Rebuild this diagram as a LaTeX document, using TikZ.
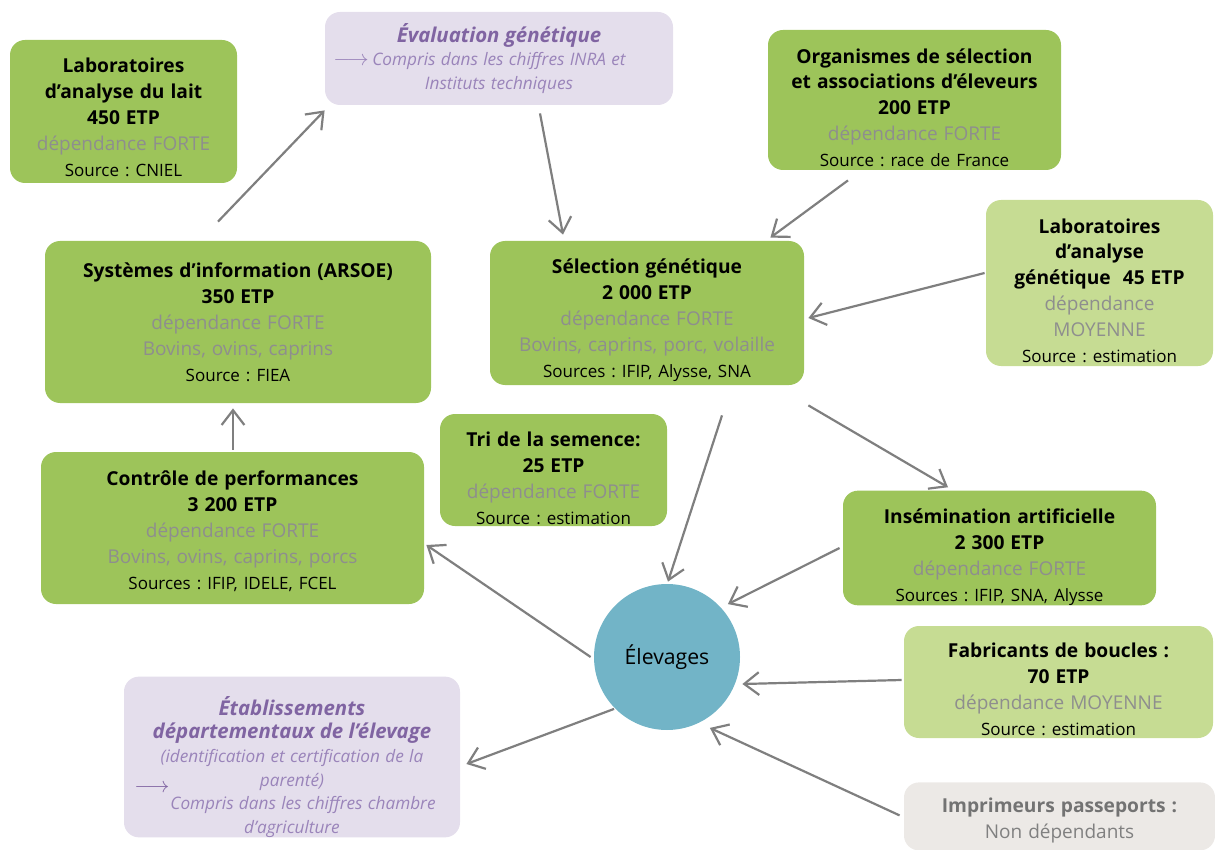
\documentclass[tikz,border=0pt]{standalone}
\usepackage{fontspec}
\setmainfont{Open Sans}
\usetikzlibrary{positioning,arrows.meta,calc}
\definecolor{gMain}{HTML}{9DC45A}
\definecolor{gLight}{HTML}{C6DC93}
\definecolor{lav}{HTML}{E4DEEC}
\definecolor{lavtxt}{HTML}{8064A2}
\definecolor{lavlight}{HTML}{9A84BA}
\definecolor{imp}{HTML}{ECE9E6}
\definecolor{depgray}{HTML}{8E8E8E}
\definecolor{circ}{HTML}{72B4C7}
\definecolor{wiregray}{HTML}{7F7F7F}
\newcommand{\ttl}[1]{{\fontsize{9.6}{12.8}\selectfont\bfseries #1}}
\newcommand{\dep}[1]{{\fontsize{9.5}{13}\selectfont\color{depgray}#1}}
\newcommand{\src}[1]{{\fontsize{8.5}{12}\selectfont #1}}
\newcommand{\pttl}[1]{{\fontsize{10.2}{13}\selectfont\bfseries\itshape\color{lavtxt}#1}}
\newcommand{\pnote}[1]{{\fontsize{8.6}{11.8}\selectfont\itshape\color{lavlight}#1}}
\frenchspacing

\begin{document}
\begin{tikzpicture}[x=0.5pt,y=-0.5pt,
  box/.style={rounded corners=7.5pt,align=center,inner xsep=2pt,inner ysep=0pt,text=black,
    font=\fontsize{9}{13}\selectfont},
  gbox/.style={box,fill=gMain},
  lbox/.style={box,fill=gLight},
  pbox/.style={box,fill=lav},
  topgap/.style={execute at begin node={\rule{0pt}{\dimexpr7.3pt+#1pt\relax}}},
  wire/.style={-{Straight Barb[length=2.6mm,width=4mm]},line width=1.1pt,draw=wiregray}]
\useasboundingbox (0,0) rectangle (1215,850);
\clip (0,0) rectangle (1215,850);
% top row
\node[gbox,topgap=6,text width=109.5pt,minimum height=71.5pt] (lait) at (123.5,111.5)
  {\ttl{Laboratoires\\d’analyse du lait\\450 ETP}\\\dep{dépendance FORTE}\\\src{Source : CNIEL}};
\node[pbox,text width=170pt,minimum height=46.5pt,font=\fontsize{8}{11.8}\selectfont] (eval) at (499,58.5)
  {\pttl{Évaluation génétique}\\\pnote{\makebox[0pt][r]{\fontsize{11}{11}\selectfont$\longrightarrow$\,}Compris dans les chiffres INRA et\\Instituts techniques}};
\node[gbox,topgap=8,text width=142.5pt,minimum height=70pt] (org) at (914.5,100)
  {\ttl{Organismes de sélection\\et associations d’éleveurs\\200 ETP}\\\dep{dépendance FORTE}\\\src{Source : race de France}};
% middle row
\node[lbox,topgap=8,text width=109.5pt,minimum height=83pt] (labg) at (1099.5,283)
  {\ttl{Laboratoires\\d’analyse\\génétique~~45 ETP}\\\dep{dépendance\\MOYENNE}\\\src{Source : estimation}};
\node[gbox,text width=189pt,minimum height=81pt] (sys) at (238,322)
  {\ttl{Systèmes d’information (ARSOE)\\350 ETP}\\\dep{dépendance FORTE\\Bovins, ovins, caprins}\\\src{Source : FIEA}};
\node[gbox,topgap=7,text width=153pt,minimum height=72pt] (sel) at (647,313)
  {\ttl{Sélection génétique\\2 000 ETP}\\\dep{dépendance FORTE\\Bovins, caprins, porc, volaille}\\\src{Sources : IFIP, Alysse, SNA}};
\node[gbox,topgap=8,text width=109.5pt,minimum height=56pt] (tri) at (553.5,470)
  {\ttl{Tri de la semence:\\25 ETP}\\\dep{dépendance FORTE}\\\src{Source : estimation}};
\node[gbox,topgap=3,text width=187.5pt,minimum height=76pt] (ctrl) at (232.5,528)
  {\ttl{Contrôle de performances\\3 200 ETP}\\\dep{dépendance FORTE\\Bovins, ovins, caprins, porcs}\\\src{Sources : IFIP, IDELE, FCEL}};
\node[gbox,topgap=9,text width=152.5pt,minimum height=56pt] (ins) at (999.5,548)
  {\ttl{Insémination artificielle\\2 300 ETP}\\\dep{dépendance FORTE}\\\src{Sources : IFIP, SNA, Alysse}};
% centre
\node[circle,fill=circ,minimum size=73pt,inner sep=0pt,font=\fontsize{10.6}{13}\selectfont] (elev) at (667,657) {Élevages};
% bottom row
\node[lbox,topgap=7,text width=150.5pt,minimum height=56pt] (fab) at (1058.5,682)
  {\ttl{Fabricants de boucles :\\70 ETP}\\\dep{dépendance MOYENNE}\\\src{Source : estimation}};
\node[pbox,topgap=12,text width=164pt,minimum height=78pt,font=\fontsize{8}{11.8}\selectfont] (etab) at (292,757)
  {\pttl{Établissements\\départementaux de l’élevage}\\\pnote{(identification et certification de la\\parenté)\\\hspace*{11pt}Compris dans les chiffres chambre\\d’agriculture}};
\node[font=\fontsize{11}{11}\selectfont,text=lavtxt,inner sep=0pt] (etabarr) at (152,788) {$\longrightarrow$};
\node[box,topgap=4,fill=imp,text width=151.5pt,minimum height=34pt,anchor=north] (imp) at (1059.5,782)
  {\ttl{\color{black!55}Imprimeurs passeports :}\\\dep{\color{black!50}Non dépendants}};
% arrows
\draw[wire] ($(sys.north)+(-20,-19)$) -- ($(eval.south west)+(0,5)$);
\draw[wire] ($(eval.south)+(41,8)$) -- ($(sel.north)+(-84,-6)$);
\draw[wire] ($(org.south)+(-66.5,10)$) -- ($(sel.north east)+(-34,-3)$);
\draw[wire] ($(labg.west)+(-1,-10)$) -- ($(sel.east)+(4,5)$);
\draw[wire] ($(ctrl.north)+(0.5,-2)$) -- ($(sys.south)+(-5,5)$);
\draw[wire] ($(sel.south east)+(4,20)$) -- ($(ins.north)+(-51.5,-3)$);
\draw[wire] ($(sel.south)+(75,30)$) -- ($(elev.north)+(1,-2)$);
\draw[wire] ($(elev.west)+(-3,0)$) -- ($(ctrl.east)+(2,17)$);
\draw[wire] ($(ins.west)+(-3,0)$) -- ($(elev.north east)+(9,-1)$);
\draw[wire] ($(fab.west)+(-2,-2)$) -- ($(elev.east)+(2,27)$);
\draw[wire] ($(elev.south west)+(-1,0)$) -- ($(etab.east)+(6,7)$);
\draw[wire] ($(imp.west)+(-4,-1)$) -- ($(elev.south east)+(-9,19)$);
\end{tikzpicture}
\end{document}
